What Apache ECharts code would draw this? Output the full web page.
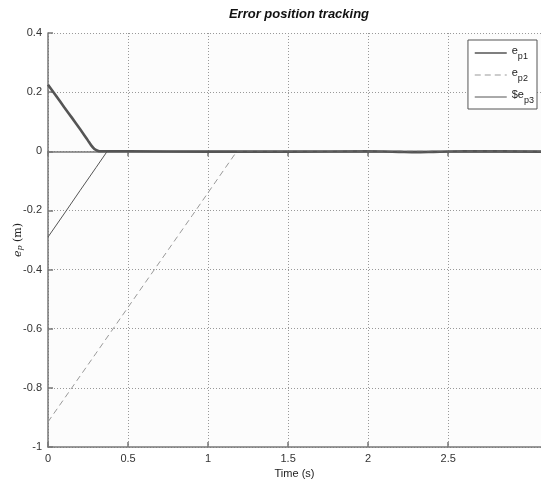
<!DOCTYPE html>
<html><head><meta charset="utf-8">
<script src="https://cdn.jsdelivr.net/npm/echarts@6/dist/echarts.min.js"></script>
<style>html,body{margin:0;padding:0;background:#fff}#c{width:541px;height:479px}</style>
</head><body><div id="c"></div>
<script>
// Data
const t1 = [0, 0.05, 0.1, 0.15, 0.2, 0.23, 0.25, 0.27, 0.29, 0.31, 0.33, 0.5, 1.0, 1.5, 2.0, 2.2, 2.3, 2.4, 2.6, 3.08];
const ep1 = [0.225, 0.188, 0.150, 0.113, 0.075, 0.052, 0.036, 0.020, 0.008, 0.002, 0.0, 0.0, -0.001, -0.001, 0.0, -0.002, -0.003, -0.002, 0.0, -0.001];
const t2 = [0, 0.3, 0.6, 0.9, 1.1, 1.18, 1.5, 2.0, 3.08];
const ep2 = [-0.915, -0.683, -0.45, -0.218, -0.062, 0.0, 0.0, 0.0, 0.0];
const t3 = [0, 0.1, 0.2, 0.3, 0.37, 0.5, 1.0, 2.0, 3.08];
const ep3 = [-0.29, -0.212, -0.133, -0.055, 0.0, 0.0, 0.0, 0.0, 0.0];
const xTicks = [0, 0.5, 1, 1.5, 2, 2.5];
const seriesNames = ['e_p1', 'e_p2', '$e_p3'];
const legendLabels = { 'e_p1': ['e', 'p1'], 'e_p2': ['e', 'p2'], '$e_p3': ['$e', 'p3'] };

const zip = (a, b) => a.map((v, i) => [v, b[i]]);
const chart = echarts.init(document.getElementById('c'), null, { renderer: 'canvas' });
const axisCol = '#777';
const gridLine = { show: true, lineStyle: { color: '#999', type: [1, 2], width: 1 } };
const legendWidths = [1.6, 1, 1];
chart.setOption({
  backgroundColor: '#ffffff',
  animation: false,
  title: {
    text: 'Error position tracking', left: 294, top: 3, textAlign: 'center',
    textStyle: { fontFamily: 'Liberation Sans', fontSize: 13, fontWeight: 'bold', fontStyle: 'italic', color: '#111' }
  },
  grid: { left: 48, top: 33, right: 0, bottom: 32, outerBoundsMode: 'none', containLabel: false,
    show: true, backgroundColor: '#fcfcfc', borderWidth: 0 },
  legend: {
    orient: 'vertical', right: 4, top: 40, itemGap: 6, itemWidth: 32, itemHeight: 12,
    padding: [5, 3, 4, 6], borderColor: '#555', borderWidth: 1, backgroundColor: '#fff',
    data: seriesNames.map((n, i) => ({ name: n, lineStyle: { width: legendWidths[i] } })),
    itemStyle: { opacity: 0 },
    formatter: n => '{b|' + legendLabels[n][0] + '}{s|' + legendLabels[n][1] + '}',
    textStyle: {
      rich: {
        b: { fontFamily: 'Liberation Sans', fontSize: 11, color: '#222', verticalAlign: 'bottom', padding: [0, 0, 5, 0] },
        s: { fontFamily: 'Liberation Sans', fontSize: 9, color: '#222', verticalAlign: 'bottom' }
      }
    }
  },
  xAxis: [{
    type: 'value', min: 0, max: 3.08, interval: 0.5,
    name: 'Time (s)', nameLocation: 'middle', nameGap: 19,
    nameTextStyle: { fontFamily: 'Liberation Sans', fontSize: 11, color: '#222' },
    axisLine: { show: true, onZero: false, lineStyle: { color: axisCol, width: 1.5 } },
    axisTick: { show: true, inside: true, length: 5, customValues: xTicks, lineStyle: { color: axisCol, width: 1.5 } },
    axisLabel: { customValues: xTicks, fontFamily: 'Liberation Sans', fontSize: 11, color: '#333', margin: 6 },
    splitLine: gridLine
  }, {
    type: 'value', min: 0, max: 3.08, position: 'top',
    axisLine: { show: true, lineStyle: { color: axisCol, width: 1.5 } },
    axisTick: { show: true, inside: true, length: 5, customValues: xTicks, lineStyle: { color: axisCol, width: 1.5 } },
    axisLabel: { show: false }, splitLine: { show: false }
  }],
  yAxis: {
    type: 'value', min: -1, max: 0.4, interval: 0.2,
    name: '{i|e}{s|p} (m)', nameLocation: 'middle', nameGap: 24, nameRotate: 90, nameMoveOverlap: false,
    nameTextStyle: {
      fontFamily: 'DejaVu Serif', fontSize: 11, color: '#222',
      rich: {
        i: { fontFamily: 'DejaVu Serif', fontStyle: 'italic', fontSize: 11, color: '#222' },
        s: { fontFamily: 'DejaVu Serif', fontStyle: 'italic', fontSize: 8, color: '#222', verticalAlign: 'bottom' }
      }
    },
    axisLine: { show: true, lineStyle: { color: axisCol, width: 1.5 } },
    axisTick: { show: true, inside: true, length: 5, lineStyle: { color: axisCol, width: 1.5 } },
    axisLabel: { fontFamily: 'Liberation Sans', fontSize: 11, color: '#333', margin: 6,
      formatter: v => (Math.abs(v) < 1e-9 ? '0' : String(+v.toFixed(1))) },
    splitLine: gridLine
  },
  series: [
    { name: seriesNames[0], type: 'line', data: zip(t1, ep1), symbol: 'none', smooth: 0.2,
      lineStyle: { color: '#555', width: 2.6 }, itemStyle: { color: '#555' } },
    { name: seriesNames[1], type: 'line', data: zip(t2, ep2), symbol: 'none',
      lineStyle: { color: '#999', width: 1, type: [6, 4] }, itemStyle: { color: '#999' } },
    { name: seriesNames[2], type: 'line', data: zip(t3, ep3), symbol: 'none',
      lineStyle: { color: '#555', width: 1 }, itemStyle: { color: '#555' } }
  ]
});
</script></body></html>
